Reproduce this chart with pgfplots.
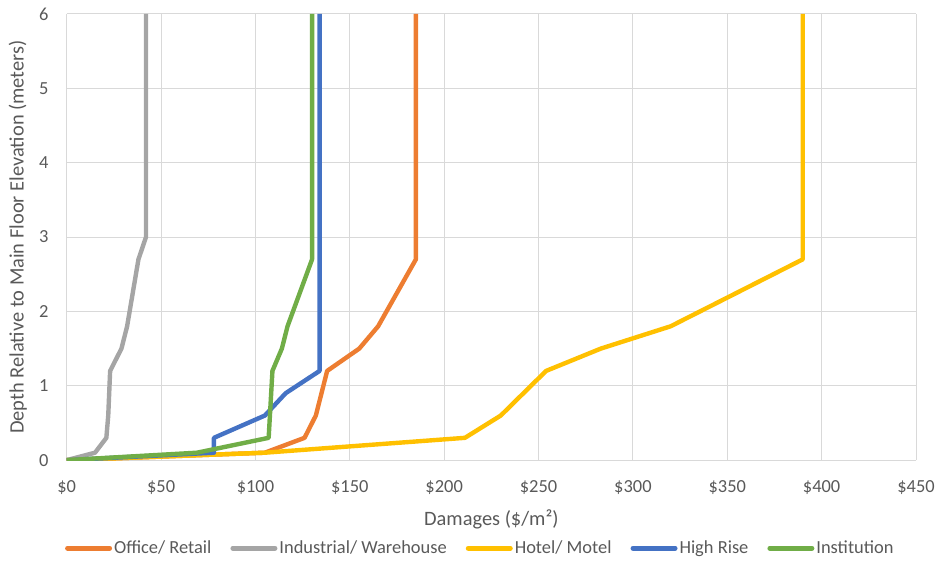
\documentclass[border=0pt]{standalone}
\usepackage{pgfplots}
\pgfplotsset{compat=1.18}
\usepackage{fontspec}
\setmainfont{Carlito}
\definecolor{cOrange}{HTML}{ED7D31}
\definecolor{cGray}{HTML}{A5A5A5}
\definecolor{cYellow}{HTML}{FFC000}
\definecolor{cBlue}{HTML}{4472C4}
\definecolor{cGreen}{HTML}{70AD47}
\definecolor{cText}{HTML}{595959}
\definecolor{cGrid}{HTML}{D9D9D9}
\begin{document}
\begin{tikzpicture}
\begin{axis}[
  scale only axis,
  width=849bp, height=446bp,
  xmin=0, xmax=450, ymin=0, ymax=6,
  xtick={0,50,...,450},
  ytick={0,1,...,6},
  xticklabel={\$\pgfmathprintnumber{\tick}},
  /pgf/number format/assume math mode=true,
  tick label style={font=\fontsize{18.5}{22}\selectfont, text=cText},
  xticklabel style={anchor=center, inner sep=0pt, yshift=-27bp},
  yticklabel style={anchor=east, inner sep=0pt, xshift=-18bp},
  xlabel={Damages (\$/m²)},
  ylabel={Depth Relative to Main Floor Elevation (meters)},
  xlabel style={font=\fontsize{20.5}{24}\selectfont, text=cText,
    at={(axis description cs:0.5,-0.1323)}, anchor=center},
  ylabel style={font=\fontsize{20.5}{24}\selectfont, text=cText,
    at={(axis description cs:-0.0577,0.5)}, anchor=center},
  grid=major,
  major grid style={cGrid, line width=1bp},
  axis line style={draw=none},
  tick style={draw=none},
  legend columns=5,
  legend style={at={(axis description cs:0.487,-0.1973)}, anchor=center,
    draw=none, fill=none,
    font=\fontsize{18.5}{22}\selectfont, text=cText,
    /tikz/every even column/.append style={column sep=17bp},
    /tikz/every odd column/.append style={column sep=0bp}},
  legend cell align=left,
  legend image code/.code={\draw[#1, line width=5bp, line cap=round] (0bp,0bp) -- (42bp,0bp);},
  every axis plot/.append style={line width=4.4bp, line join=round},
]
\addplot[cOrange] coordinates {(0,0) (105,0.1) (126,0.3) (132,0.6) (138,1.2) (155,1.5) (165,1.8) (185,2.7) (185,6)};
\addlegendentry{Office/ Retail}
\addplot[cGray] coordinates {(0,0) (15,0.1) (21,0.3) (22,0.6) (23,1.2) (29,1.5) (32,1.8) (38,2.7) (42,3.0) (42,6)};
\addlegendentry{Industrial/ Warehouse}
\addplot[cYellow] coordinates {(0,0) (105,0.1) (211,0.3) (230,0.6) (254,1.2) (283,1.5) (320,1.8) (390,2.7) (390,6)};
\addlegendentry{Hotel/ Motel}
\addplot[cBlue] coordinates {(0,0) (78,0.1) (78,0.3) (105,0.6) (116,0.9) (134,1.2) (134,6)};
\addlegendentry{High Rise}
\addplot[cGreen] coordinates {(0,0) (69,0.1) (107,0.3) (109,1.2) (114,1.5) (117,1.8) (130,2.7) (130,6)};
\addlegendentry{Institution}
\path (rel axis cs:1,1) ++(22bp,14bp) coordinate (tr);
\path (rel axis cs:0,0) ++(-66.7bp,-103bp) coordinate (bl);
\end{axis}
\useasboundingbox (bl) rectangle (tr);
\end{tikzpicture}
\end{document}
